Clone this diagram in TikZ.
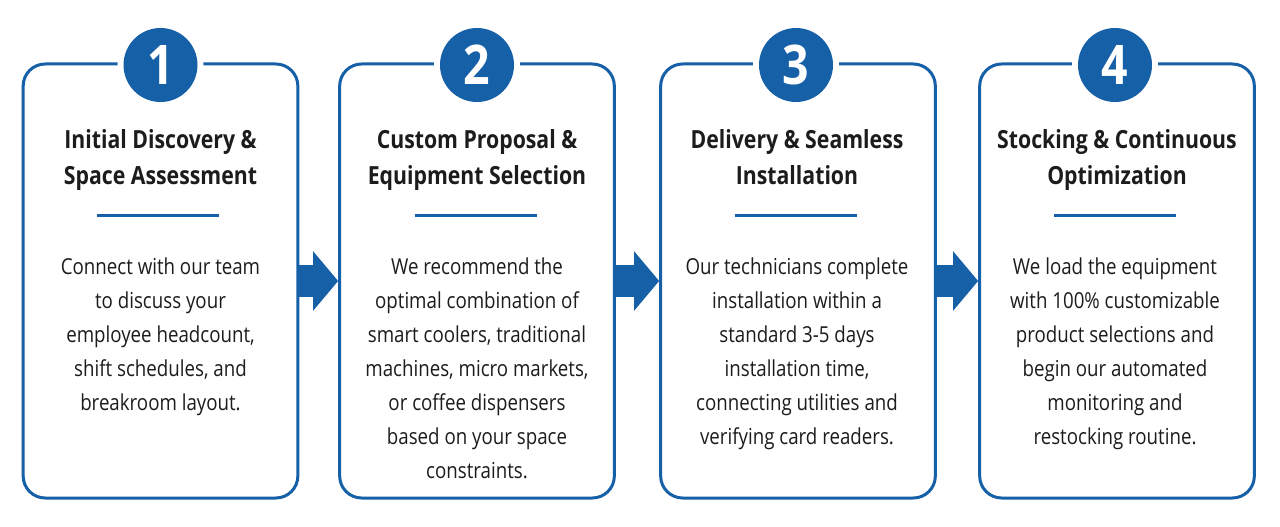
\documentclass[tikz,border=0pt]{standalone}
\usepackage{fontspec}
\setmainfont[FakeStretch=0.85]{Open Sans}
\usetikzlibrary{arrows.meta}

\definecolor{stageblue}{HTML}{1660A8}
\definecolor{inkdark}{HTML}{1C1C1C}

\tikzset{
  card/.style={draw=stageblue, line width=2.25pt, rounded corners=16.5pt,
    minimum width=206pt, minimum height=325.5pt, inner sep=0pt},
  badge/.style={circle, fill=stageblue, minimum size=55.5pt, inner sep=0pt,
    preaction={draw=white, line width=9pt}, text=white,
    font=\bfseries\fontsize{41}{41}\selectfont},
  heading/.style={anchor=north, align=center, inner sep=0pt, text=inkdark,
    font=\bfseries\fontsize{18.75}{27}\selectfont},
  divider/.style={fill=stageblue, minimum width=91.5pt, minimum height=2.25pt, inner sep=0pt},
  blurb/.style={anchor=north, align=center, inner sep=0pt, text=inkdark,
    font=\fontsize{16.5}{25.5}\selectfont},
  flow/.style={draw=stageblue, line width=24pt, -{Triangle[length=18.75pt, width=43.5pt]}}
}

\begin{document}
\begin{tikzpicture}[x=0.75pt, y=-0.75pt]

    \useasboundingbox[fill=white] (0,0) rectangle (1280,527);

    % Paso 1
    \node[card] (card1) at (160.5,281) {};
    \node[badge] (num1) at (160.5,65) {1};
    \node[heading] (head1) at (160.5,129) {Initial Discovery \&\\Space Assessment};
    \node[divider] (sep1) at (158,216) {};
    \node[blurb] (text1) at (160.5,258) {Connect with our team\\to discuss your\\employee headcount,\\shift schedules, and\\breakroom layout.};

    % Paso 2
    \node[card] (card2) at (477,281) {};
    \node[badge] (num2) at (477,65) {2};
    \node[heading] (head2) at (477,129) {Custom Proposal \&\\Equipment Selection};
    \node[divider] (sep2) at (476,216) {};
    \node[blurb] (text2) at (477,258) {We recommend the\\optimal combination of\\smart coolers, traditional\\machines, micro markets,\\or coffee dispensers\\based on your space\\constraints.};

    % Paso 3
    \node[card] (card3) at (798,281) {};
    \node[badge] (num3) at (796,65) {3};
    \node[heading] (head3) at (797,129) {Delivery \& Seamless\\Installation};
    \node[divider] (sep3) at (796,216) {};
    \node[blurb] (text3) at (797,258) {Our technicians complete\\installation within a\\standard 3-5 days\\installation time,\\connecting utilities and\\verifying card readers.};

    % Paso 4
    \node[card] (card4) at (1117,281) {};
    \node[badge] (num4) at (1115,65) {4};
    \node[heading] (head4) at (1117,129) {Stocking \& Continuous\\Optimization};
    \node[divider] (sep4) at (1115,216) {};
    \node[blurb] (text4) at (1115,258) {We load the equipment\\with 100\% customizable\\product selections and\\begin our automated\\monitoring and\\restocking routine.};

    % Flechas entre pasos
    \draw[flow] (card1.east) -- (card2.west);
    \draw[flow] (card2.east) -- (card3.west);
    \draw[flow] (card3.east) -- (card4.west);

\end{tikzpicture}
\end{document}
